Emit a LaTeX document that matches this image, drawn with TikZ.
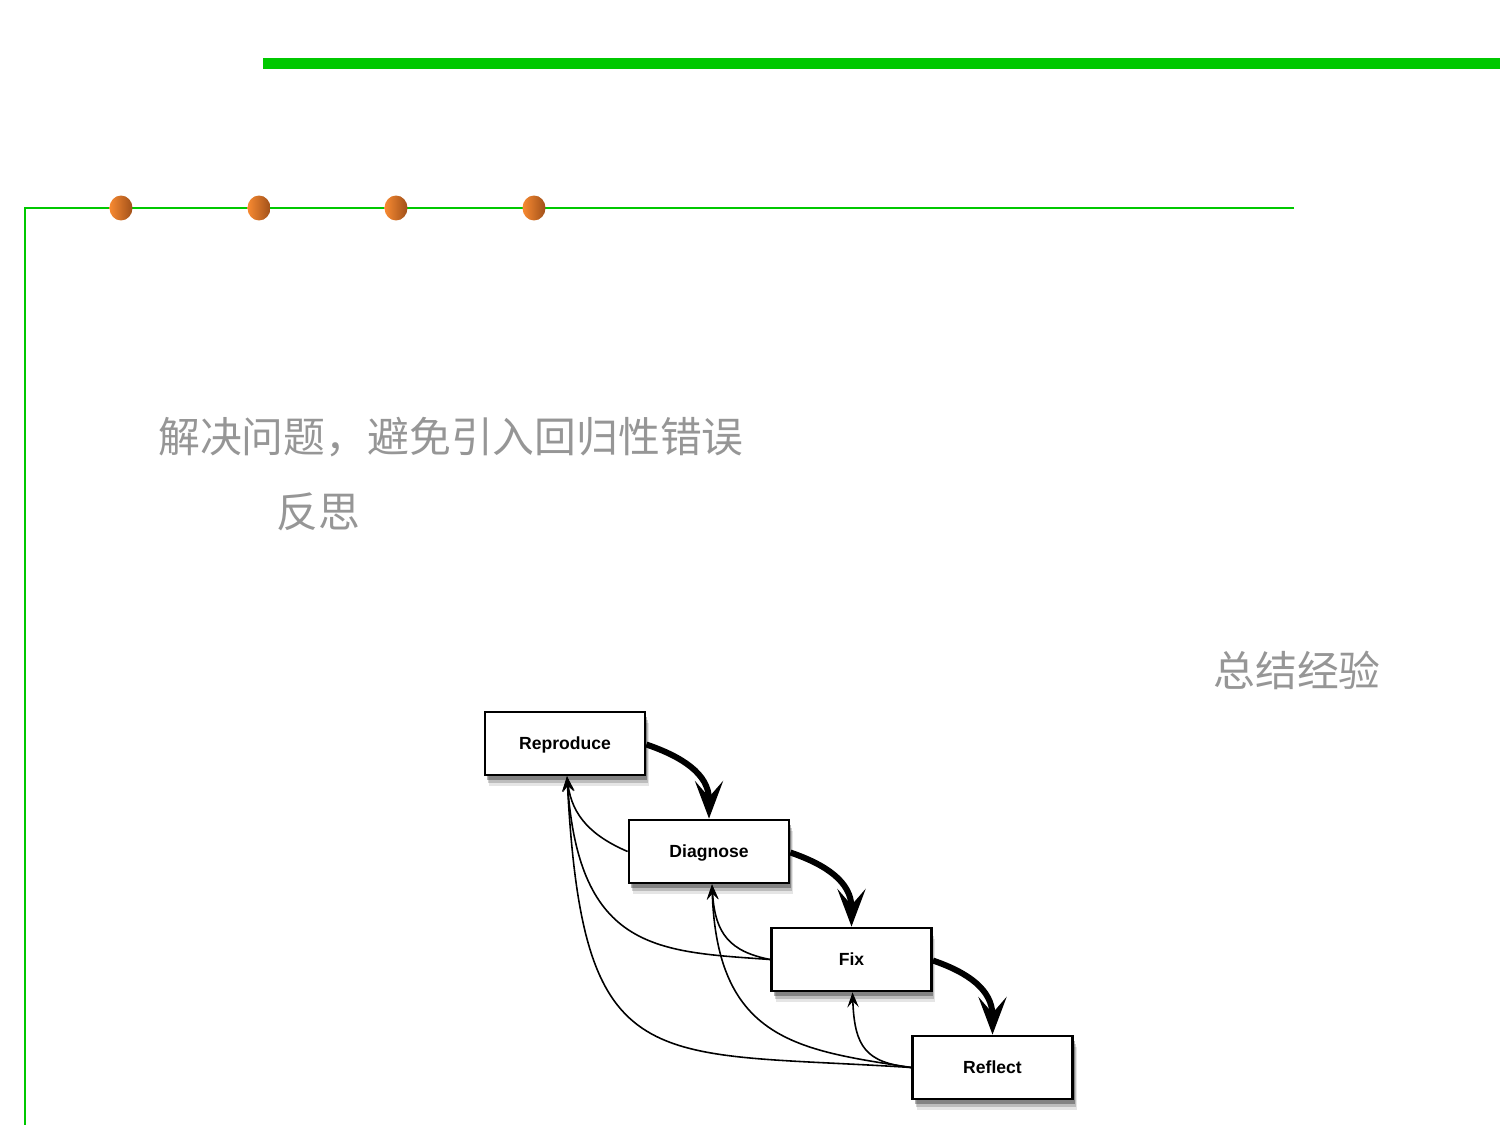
\documentclass[tikz,border=0pt]{standalone}
\usepackage{fontspec}
\newfontfamily\cjk{Noto Sans CJK SC}
\newfontfamily\lab{Liberation Sans}
\usetikzlibrary{arrows.meta,shadows,shapes.geometric}
\definecolor{lgreen}{RGB}{0,200,0}
\definecolor{cjkgray}{RGB}{150,150,150}
\definecolor{ballL}{RGB}{248,138,50}
\definecolor{ballR}{RGB}{160,80,25}
\tikzset{
  stepbox/.style={draw=black, line width=1.6pt, fill=white, minimum width=3.2cm, minimum height=1.26cm,
    inner sep=0pt, text height=1.6ex, text depth=0pt, font=\lab\bfseries\fontsize{10pt}{12pt}\selectfont,
    drop shadow={shadow xshift=0.8mm, shadow yshift=-2.2mm, opacity=0.10, fill=black},
    drop shadow={shadow xshift=0.6mm, shadow yshift=-1.6mm, opacity=0.18, fill=black},
    drop shadow={shadow xshift=0.4mm, shadow yshift=-1.0mm, opacity=0.3, fill=black}},
  bigarrow/.style={line width=0.12cm, -{Stealth[length=7.5mm,width=5.6mm,inset=3.2mm]}},
  backarrow/.style={line width=0.9pt, -{Stealth[length=3mm,width=2.3mm,inset=1.2mm]}},
  ballshape/.style={ellipse, minimum width=0.46cm, minimum height=0.5cm, inner sep=0pt, left color=ballL, right color=ballR, draw=none},
  cjktext/.style={font=\cjk\fontsize{23.8pt}{28pt}\selectfont, text=cjkgray, inner sep=0pt, anchor=west}
}
\begin{document}
\begin{tikzpicture}[x=0.02cm,y=-0.02cm]
\useasboundingbox (0,0) rectangle (1500,1125);
% green lines
\fill[lgreen] (263,58) rectangle (1500,69);
\draw[lgreen, line width=0.04cm] (1294,208) -- (25,208) -- (25,1125);
% balls
\node[ballshape] (b1) at (121,208) {};
\node[ballshape] (b2) at (259,208) {};
\node[ballshape] (b3) at (396,208) {};
\node[ballshape] (b4) at (534,208) {};
% texts
\node[cjktext] (t1) at (158,437) {解决问题，避免引入回归性错误};
\node[cjktext] (t2) at (276,512) {反思};
\node[cjktext] (t3) at (1213,670) {总结经验};
% boxes
\node[stepbox] (rep) at (565,743.5) {Reproduce};
\node[stepbox] (diag) at (709,851.5) {Diagnose};
\node[stepbox] (fix) at (851.5,959.5) {Fix};
\node[stepbox] (refl) at (992.5,1067.5) {Reflect};
% thick forward arrows
\draw[bigarrow] ([yshift=-0.02cm]rep.east) .. controls +(35,12) and +(0,-45) .. (diag.north);
\draw[bigarrow] ([yshift=-0.02cm]diag.east) .. controls +(35,12) and +(0,-45) .. (fix.north);
\draw[bigarrow] ([yshift=-0.02cm]fix.east) .. controls +(35,12) and +(0,-45) .. (refl.north);
% thin back arrows
\draw[backarrow] (diag.west) .. controls +(-35,-15) and +(5,40) .. ([xshift=0.04cm]rep.south);
\draw[backarrow] (fix.west) .. controls +(-112,-8) and +(12,175) .. ([xshift=0.04cm]rep.south);
\draw[backarrow] (fix.west) .. controls +(-40,-8) and +(3,50) .. ([xshift=0.06cm]diag.south);
\draw[backarrow] (refl.west) .. controls +(-263,-17) and +(16,305) .. ([xshift=0.04cm]rep.south);
\draw[backarrow] (refl.west) .. controls +(-113,-17.5) and +(5,156) .. ([xshift=0.06cm]diag.south);
\draw[backarrow] (refl.west) .. controls +(-45,-5) and +(2,55) .. ([xshift=0.02cm]fix.south);
\end{tikzpicture}
\end{document}
